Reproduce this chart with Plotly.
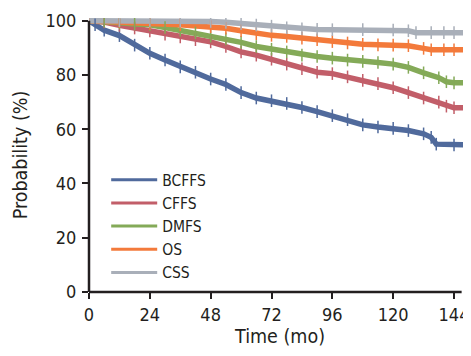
import plotly.graph_objects as go

# ---- data ----
months_bcffs = [0, 2.4, 6, 12, 18, 24, 30, 36, 42, 48, 54, 60, 66, 72, 78, 84, 90, 96, 102, 108, 114, 120, 126, 132, 135, 137, 144, 149.5]
bcffs = [100, 98.5, 96.5, 94.5, 91, 88, 85.5, 83, 81, 78.5, 76.5, 73.5, 71.5, 70.5, 69.5, 68, 66.5, 65, 63.5, 61.6, 60.8, 60.3, 59.5, 58.3, 57, 54.5, 54.2, 54.2]

months_cffs = [0, 6, 12, 18, 24, 30, 36, 42, 48, 54, 60, 66, 72, 78, 84, 90, 96, 102, 108, 114, 120, 126, 132, 138, 141, 144, 149.5]
cffs = [100, 99.5, 98.3, 97.3, 96.2, 95, 94, 93, 92.2, 90.5, 88.5, 87.3, 85.8, 84, 82.3, 81, 80.5, 79.3, 78, 76.8, 75.3, 73.5, 71.5, 70, 68.5, 67.9, 67.9]

months_dmfs = [0, 6, 12, 18, 24, 30, 36, 42, 48, 54, 60, 66, 72, 78, 84, 90, 96, 102, 108, 114, 120, 126, 132, 138, 141, 144, 149.5]
dmfs = [100, 99.8, 99.2, 98.8, 98.5, 97.5, 96.5, 95.5, 94.3, 93.3, 92, 90.5, 89.5, 88.5, 87.3, 86.8, 86.2, 85.5, 85, 84.6, 84, 82.8, 80.8, 79, 77.5, 77.1, 77.1]

months_os = [0, 12, 24, 36, 48, 54, 60, 66, 72, 78, 84, 90, 96, 102, 108, 114, 120, 126, 132, 135, 140, 144, 149.5]
os_ = [100, 99.7, 99, 98.5, 97.8, 97.2, 96.3, 95.2, 94.6, 94.2, 93.6, 93, 92.3, 91.8, 91.3, 91.1, 91, 90.8, 89.8, 89.3, 89.3, 89.3, 89.3]

months_css = [0, 12, 24, 36, 48, 54, 60, 66, 72, 78, 84, 90, 96, 108, 120, 126, 129, 135, 140, 144, 149.5]
css = [100, 100, 99.9, 99.8, 99.7, 99.4, 98.9, 98.4, 98, 97.4, 97, 96.8, 96.7, 96.7, 96.6, 96.3, 95.6, 95.6, 95.6, 95.6, 95.6]

series_names = ["BCFFS", "CFFS", "DMFS", "OS", "CSS"]
x_ticks = [0, 24, 48, 72, 96, 120, 144]
y_ticks = [0, 20, 40, 60, 80, 100]

# ---- styles ----
colors = ["#506a9c", "#c25e69", "#84aa58", "#f37a3b", "#a9afb9"]
axis_color = "#231f20"
font_family = "DejaVu Sans Condensed, Liberation Sans Narrow, Arial, sans-serif"
x_max = 150.7
y_max = 101
axis_end_month = 147

series = [
    (months_bcffs, bcffs),
    (months_cffs, cffs),
    (months_dmfs, dmfs),
    (months_os, os_),
    (months_css, css),
]

fig = go.Figure()
# survival curves
for name, (xs, ys), col in zip(series_names, series, colors):
    fig.add_trace(go.Scatter(
        x=xs, y=ys, name=name, mode="lines",
        line=dict(color=col, width=5.5),
        legendgroup=name, showlegend=False,
    ))
# censoring ticks
for name, (xs, ys), col in zip(series_names, series, colors):
    fig.add_trace(go.Scatter(
        x=xs, y=ys, name=name, mode="markers", showlegend=False,
        marker=dict(symbol="line-ns-open", size=9, color=col, line=dict(color=col, width=1.5)),
        legendgroup=name,
    ))
# legend entries (thin line samples)
for name, col in zip(series_names, colors):
    fig.add_trace(go.Scatter(
        x=[None], y=[None], name=name, mode="lines",
        line=dict(color=col, width=3), legendgroup=name, showlegend=True,
    ))

# the page body adds an 8px offset, so the figure is sized to fill the rest
fig.update_layout(
    width=463, height=348,
    margin=dict(l=81, r=0, t=10, b=64),
    paper_bgcolor="white", plot_bgcolor="white",
    font=dict(family=font_family, color=axis_color, size=18),
    showlegend=True,
    legend=dict(
        x=0.045, y=0.47, xanchor="left", yanchor="top",
        bgcolor="rgba(0,0,0,0)", font=dict(size=15.5, color=axis_color),
        itemwidth=46, tracegroupgap=0,
    ),
    xaxis=dict(
        range=[0, x_max], tickvals=x_ticks, ticks="outside", ticklen=6, tickwidth=2,
        tickcolor=axis_color, showgrid=False, zeroline=False, showline=False,
        automargin=False, tickfont=dict(size=18),
        title=dict(text="Time (mo)", font=dict(size=19.5), standoff=4),
    ),
    yaxis=dict(
        range=[0, y_max], tickvals=y_ticks, ticks="outside", ticklen=6, tickwidth=2,
        tickcolor=axis_color, showgrid=False, zeroline=False, showline=False,
        automargin=False, tickfont=dict(size=18), ticklabelstandoff=2,
        title=dict(text="Probability (%)", font=dict(size=19.5), standoff=12),
    ),
    shapes=[
        dict(type="line", xref="paper", yref="paper", x0=0, x1=axis_end_month / x_max, y0=0, y1=0,
             line=dict(color=axis_color, width=2.5)),
        dict(type="line", xref="paper", yref="paper", x0=0, x1=0, y0=0, y1=100 / y_max,
             line=dict(color=axis_color, width=2.5)),
    ],
)

fig.write_html("out.html")
